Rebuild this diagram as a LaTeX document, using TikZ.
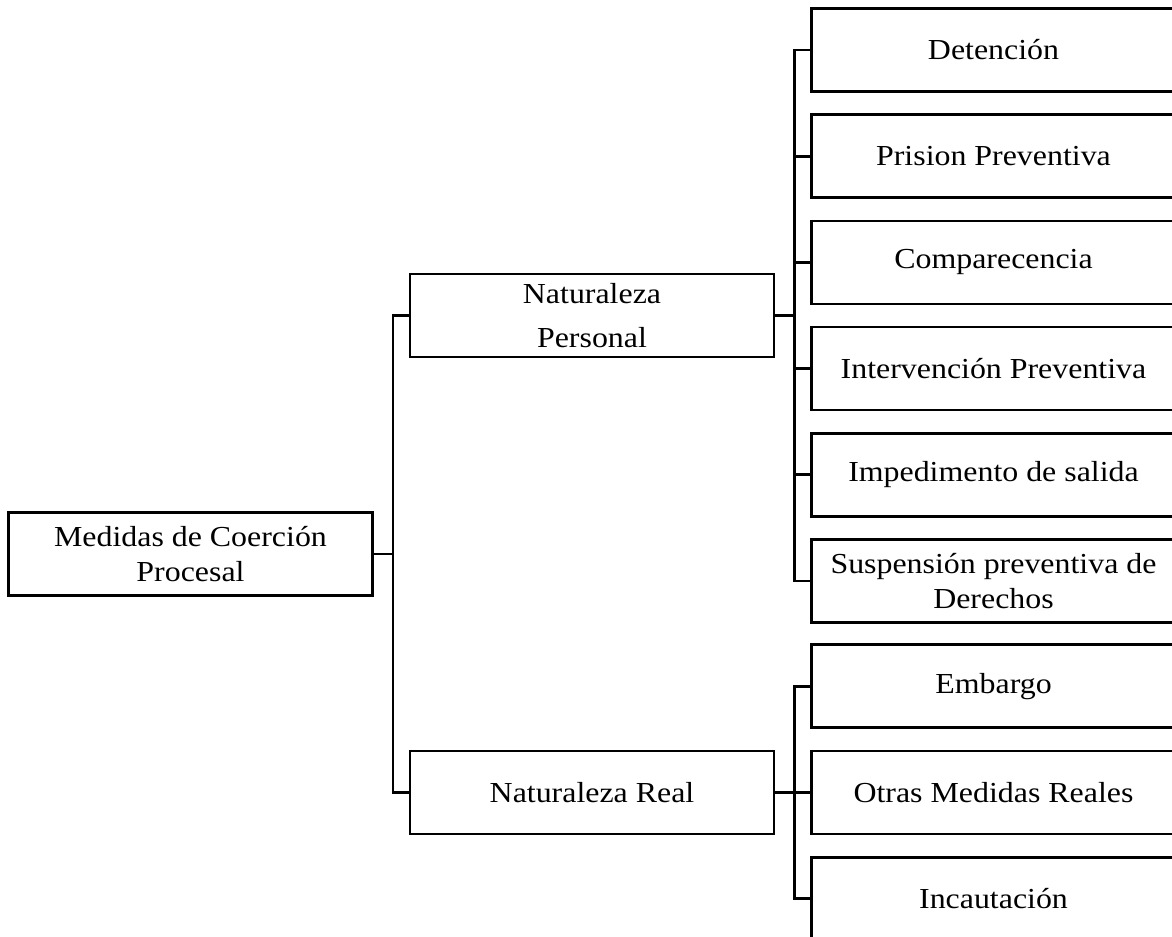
\documentclass[tikz,border=0pt]{standalone}
\usepackage{fontspec}
\setmainfont[FakeStretch=1.1]{Liberation Serif}
\usetikzlibrary{trees}

\tikzset{
  caja/.style={draw, minimum width=7.28cm, minimum height=1.66cm,
    align=center, inner sep=2pt, font=\fontsize{16.5}{19.6}\selectfont}
}

\begin{document}
\begin{tikzpicture}[line width=1.5pt,
  level distance=8.03cm,
  level 1/.style={sibling distance=9.54cm},
  level 2/.style={sibling distance=2.124cm},
  every node/.style={caja},
  edge from parent path={(\tikzparentnode.east) -- ++(0.38cm,0) |- (\tikzchildnode.west)}]
  \clip (0,0) rectangle (23.44,-18.74);
  \node (medidas) at (3.81,-11.08) {Medidas de Coerción\\Procesal} [grow'=right]
    child {node (personal) {Naturaleza\\[5.9pt]Personal}
      child {node (detencion) {Detención}}
      child {node (prision) {Prision Preventiva}}
      child {node (comparecencia) {Comparecencia}}
      child {node (intervencion) {Intervención Preventiva}}
      child {node (impedimento) {Impedimento de salida}}
      child {node (suspension) {Suspensión preventiva de\\Derechos}}
    }
    child {node (real) {Naturaleza Real}
      child {node (embargo) {Embargo}}
      child {node (otras) {Otras Medidas Reales}}
      child {node (incautacion) {Incautación}}
    };
\end{tikzpicture}
\end{document}
